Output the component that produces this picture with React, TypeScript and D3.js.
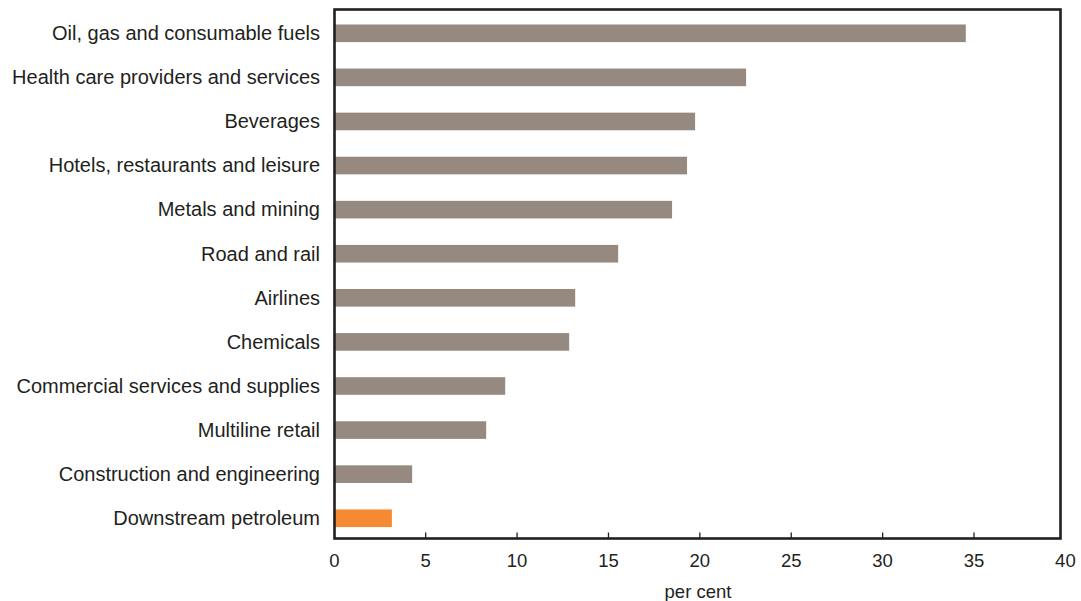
import React from "react";
import * as d3 from "d3";

const categories = [
  "Oil, gas and consumable fuels",
  "Health care providers and services",
  "Beverages",
  "Hotels, restaurants and leisure",
  "Metals and mining",
  "Road and rail",
  "Airlines",
  "Chemicals",
  "Commercial services and supplies",
  "Multiline retail",
  "Construction and engineering",
  "Downstream petroleum",
];
const values = [34.55, 22.53, 19.74, 19.3, 18.48, 15.53, 13.18, 12.85, 9.35, 8.31, 4.26, 3.15];
const highlighted = ["Downstream petroleum"];
const xTicks = [0, 5, 10, 15, 20, 25, 30, 35, 40];
const xTitle = "per cent";

const W = 1081;
const H = 601;

export default function App() {
  const x = d3.scaleLinear().domain([0, 40]).range([334.3, 1065.4]);
  const y = d3.scaleBand<string>().domain(categories).range([11.25, 540.3]).paddingInner(0.6).paddingOuter(0.3);
  const frame = { left: 334.5, right: 1060.5, top: 9.5, bottom: 538.5 };
  const font = "'Liberation Sans', Arial, Helvetica, sans-serif";
  const textColor = "#231F20";
  return (
    <svg width={W} height={H} style={{ position: "absolute", left: 0, top: 0, background: "#fff" }}>
      {categories.map((c, i) => (
        <rect
          key={c}
          x={x(0)}
          y={y(c)!}
          width={x(values[i]) - x(0)}
          height={y.bandwidth()}
          fill={highlighted.includes(c) ? "#F58A33" : "#968A80"}
        />
      ))}
      {categories.map((c) => (
        <text
          key={"l" + c}
          x={320}
          y={y(c)! + y.bandwidth() / 2 + 6.8}
          textAnchor="end"
          fontFamily={font}
          fontSize={20}
          fill={textColor}
        >
          {c}
        </text>
      ))}
      <rect
        x={frame.left}
        y={frame.top}
        width={frame.right - frame.left}
        height={frame.bottom - frame.top}
        fill="none"
        stroke={textColor}
        strokeWidth={2.6}
      />
      {xTicks.slice(1, -1).map((t) => (
        <line key={"t" + t} x1={x(t)} x2={x(t)} y1={frame.bottom} y2={frame.bottom - 6} stroke={textColor} strokeWidth={1.3} />
      ))}
      {xTicks.map((t) => (
        <text
          key={"x" + t}
          x={x(t)}
          y={567}
          textAnchor="middle"
          fontFamily={font}
          fontSize={18.5}
          fill={textColor}
        >
          {t}
        </text>
      ))}
      <text x={698} y={598} textAnchor="middle" fontFamily={font} fontSize={18.5} fill={textColor}>
        {xTitle}
      </text>
    </svg>
  );
}
